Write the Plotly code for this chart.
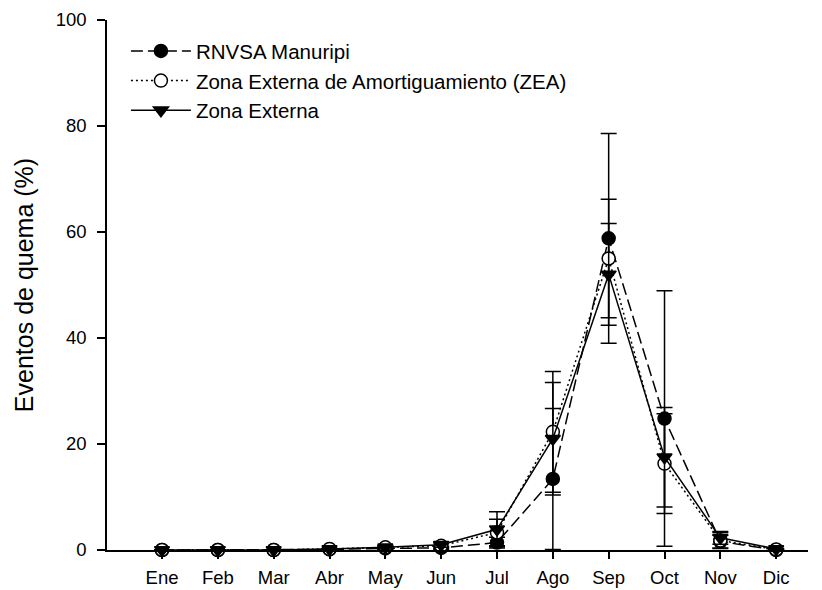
import plotly.graph_objects as go

months = ["Ene", "Feb", "Mar", "Abr", "May", "Jun", "Jul", "Ago", "Sep", "Oct", "Nov", "Dic"]

rnvsa = [0, 0, 0, 0.1, 0.3, 0.4, 1.4, 13.4, 58.8, 24.8, 1.6, 0]
rnvsa_err = [0, 0, 0, 0.1, 0.2, 0.3, 1.0, 13.3, 19.8, 24.1, 1.2, 0]

zea = [0, 0, 0, 0.2, 0.5, 0.8, 3.3, 22.3, 55.0, 16.3, 1.8, 0.1]
zea_err = [0, 0, 0, 0.1, 0.3, 0.5, 2.5, 11.4, 11.2, 9.4, 1.5, 0.1]

ze = [0, 0, 0, 0.2, 0.5, 1.0, 3.9, 21.0, 52.0, 17.5, 2.3, 0.2]
ze_err = [0, 0, 0, 0.1, 0.3, 0.5, 3.3, 10.6, 9.6, 9.4, 1.2, 0.1]

x = list(range(len(months)))

fig = go.Figure()

def add(name, y, err, dash, symbol, fill):
    fig.add_trace(go.Scatter(
        x=x, y=y, name=name, mode="lines+markers",
        line=dict(color="black", width=1.5, dash=dash),
        marker=dict(symbol=symbol, size=13, color=fill,
                    line=dict(color="black", width=1.5)),
        error_y=dict(type="data", array=err, visible=True,
                     color="black", thickness=1.5, width=8),
        cliponaxis=False,
    ))

add("RNVSA Manuripi", rnvsa, rnvsa_err, "12px,5px", "circle", "black")
add("Zona Externa de Amortiguamiento (ZEA)", zea, zea_err, "2px,3px", "circle", "white")
add("Zona Externa", ze, ze_err, "solid", "triangle-down", "black")

# page body has an 8px margin, so offsets are compensated here
fig.update_layout(
    width=822, height=590,
    margin=dict(l=99, r=22, t=12, b=48),
    paper_bgcolor="white", plot_bgcolor="white",
    font=dict(family="Liberation Sans, Arial, sans-serif", size=18.5, color="black"),
    showlegend=True,
    legend=dict(x=0.027, y=0.979, xanchor="left", yanchor="top",
                bgcolor="rgba(0,0,0,0)", borderwidth=0,
                font=dict(size=20.5), tracegroupgap=0, itemwidth=60),
    xaxis=dict(
        range=[-0.985, 11.57], tickmode="array", tickvals=x, ticktext=months,
        showline=True, linecolor="black", linewidth=1.5,
        ticks="outside", ticklen=7, tickwidth=1.5, tickcolor="black",
        showgrid=False, zeroline=False, tickfont=dict(size=18.5),
        automargin=False, ticklabelstandoff=3,
    ),
    yaxis=dict(
        range=[0, 100], tickvals=[0, 20, 40, 60, 80, 100],
        showline=True, linecolor="black", linewidth=1.5,
        ticks="outside", ticklen=8, tickwidth=1.5, tickcolor="black",
        showgrid=False, zeroline=False, tickfont=dict(size=18.5),
        automargin=False, ticklabelstandoff=7,
        title=dict(text="Eventos de quema (%)", font=dict(size=25), standoff=15),
    ),
)

fig.write_html("out.html")
